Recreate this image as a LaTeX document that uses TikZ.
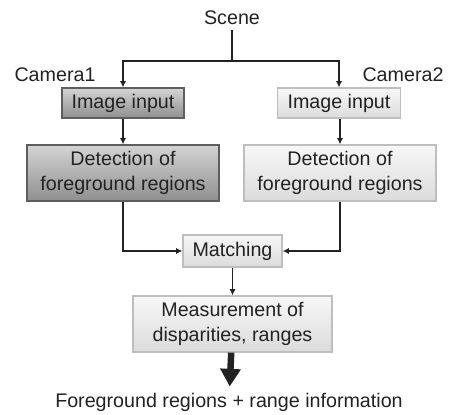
\documentclass[tikz,border=0pt]{standalone}
\usepackage{fontspec}
\setmainfont{Liberation Sans}
\usetikzlibrary{arrows.meta}

\definecolor{ink}{HTML}{222222}
\definecolor{darkedge}{HTML}{5E5E5E}
\definecolor{lightedge}{HTML}{BEBEBE}

\begin{document}
\begin{tikzpicture}[x=0.025cm, y=-0.025cm, align=center,
  font=\fontsize{14}{17.5}\selectfont, text=ink,
  darkbox/.style={draw=darkedge, line width=0.9pt, top color=black!17, bottom color=black!44, inner sep=0pt},
  lightbox/.style={draw=lightedge, line width=0.9pt, top color=black!3, bottom color=black!14, inner sep=0pt},
  link/.style={draw=ink, line width=1.3pt, -{Latex[length=4.5pt, width=4.5pt]}},
  bigarrow/.style={draw=ink, line width=4.6pt, -{Triangle[length=12.5pt, width=14pt]}}]

\useasboundingbox (0, 0) rectangle (453, 414);

\node (scene) at (232, 18) {Scene};
\node (cam1) at (55, 75) {Camera1};
\node (cam2) at (403, 75) {Camera2};

\node [darkbox, minimum width=86.7pt, minimum height=21.3pt] (in1) at (123, 103) {Image input};
\node [lightbox, minimum width=87.4pt, minimum height=21.3pt] (in2) at (339, 103) {Image input};

\node [darkbox, minimum width=136.5pt, minimum height=39.8pt] (det1) at (123, 173) {Detection of\\foreground regions};
\node [lightbox, minimum width=136.5pt, minimum height=39.8pt] (det2) at (340, 173) {Detection of\\foreground regions};

\node [lightbox, minimum width=70.4pt, minimum height=22.8pt] (match) at (232.5, 251) {Matching};
\node [lightbox, minimum width=141.5pt, minimum height=39.8pt] (meas) at (232.5, 324) {Measurement of\\disparities, ranges};

\node (result) at (229, 402) {Foreground regions + range information};

\coordinate (split) at (232, 61);

\draw [ink, line width=1.3pt] (scene) -- (split);
\draw [link] (split) -| (in1);
\draw [link] (split) -| (in2);
\draw [link] (in1) -- (det1);
\draw [link] (in2.south -| det2) -- (det2);
\draw [link] (det1) |- (match);
\draw [link] (det2) |- (match);
\draw [link] (match) -- (meas);
\draw [bigarrow, shorten >=1pt] (meas) -- (result);

\end{tikzpicture}
\end{document}
